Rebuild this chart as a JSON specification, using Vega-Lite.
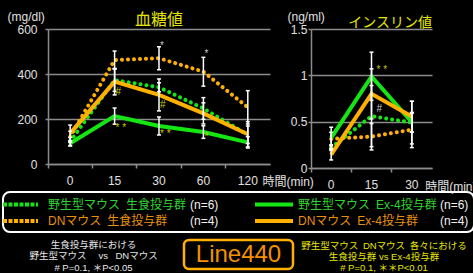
{
 "$schema": "https://vega.github.io/schema/vega-lite/v6.json",
 "background": "#000000",
 "padding": {"left": 0, "top": 10, "right": 0, "bottom": 0},
 "config": {"view": {"stroke": null}, "font": "Liberation Sans"},
 "datasets": {
  "glu": [
   {"t": "0", "s": "WT_sal", "v": 100, "lo": 82, "hi": 118},
   {"t": "15", "s": "WT_sal", "v": 373, "lo": 323, "hi": 423},
   {"t": "30", "s": "WT_sal", "v": 341, "lo": 321, "hi": 361},
   {"t": "60", "s": "WT_sal", "v": 247, "lo": 199, "hi": 295},
   {"t": "120", "s": "WT_sal", "v": 130, "lo": 91, "hi": 169},
   {"t": "0", "s": "WT_ex4", "v": 92, "lo": 80, "hi": 104},
   {"t": "15", "s": "WT_ex4", "v": 213, "lo": 177, "hi": 249},
   {"t": "30", "s": "WT_ex4", "v": 169, "lo": 129, "hi": 209},
   {"t": "60", "s": "WT_ex4", "v": 142, "lo": 114, "hi": 170},
   {"t": "120", "s": "WT_ex4", "v": 96, "lo": 71, "hi": 121},
   {"t": "0", "s": "DN_sal", "v": 121, "lo": 96, "hi": 146},
   {"t": "15", "s": "DN_sal", "v": 462, "lo": 422, "hi": 502},
   {"t": "30", "s": "DN_sal", "v": 470, "lo": 419, "hi": 521},
   {"t": "60", "s": "DN_sal", "v": 410, "lo": 346, "hi": 474},
   {"t": "120", "s": "DN_sal", "v": 252, "lo": 178, "hi": 326},
   {"t": "0", "s": "DN_ex4", "v": 136, "lo": 99, "hi": 173},
   {"t": "15", "s": "DN_ex4", "v": 366, "lo": 307, "hi": 425},
   {"t": "30", "s": "DN_ex4", "v": 307, "lo": 236, "hi": 378},
   {"t": "60", "s": "DN_ex4", "v": 225, "lo": 178, "hi": 272},
   {"t": "120", "s": "DN_ex4", "v": 132, "lo": 76, "hi": 188}
  ],
  "ins": [
   {"t": "0", "s": "WT_sal", "v": 0.22, "lo": 0.19, "hi": 0.25},
   {"t": "15", "s": "WT_sal", "v": 0.56, "lo": 0.23, "hi": 0.89},
   {"t": "30", "s": "WT_sal", "v": 0.49, "lo": 0.39, "hi": 0.59},
   {"t": "0", "s": "WT_ex4", "v": 0.325, "lo": 0.21, "hi": 0.44},
   {"t": "15", "s": "WT_ex4", "v": 0.988, "lo": 0.73, "hi": 1.25},
   {"t": "30", "s": "WT_ex4", "v": 0.494, "lo": 0.26, "hi": 0.72},
   {"t": "0", "s": "DN_sal", "v": 0.314, "lo": 0.24, "hi": 0.385},
   {"t": "15", "s": "DN_sal", "v": 0.339, "lo": 0.195, "hi": 0.48},
   {"t": "30", "s": "DN_sal", "v": 0.414, "lo": 0.22, "hi": 0.6},
   {"t": "0", "s": "DN_ex4", "v": 0.144, "lo": 0.087, "hi": 0.2},
   {"t": "15", "s": "DN_ex4", "v": 0.8, "lo": 0.53, "hi": 1.07},
   {"t": "30", "s": "DN_ex4", "v": 0.555, "lo": 0.385, "hi": 0.72}
  ],
  "gluAnn": [
   {"t": "30", "v": 533, "txt": "*", "k": "WTvsDN"},
   {"t": "60", "v": 498, "txt": "*", "k": "WTvsDN"},
   {"t": "15", "v": 329, "txt": "#", "k": "salVsEx4"},
   {"t": "30", "v": 272, "txt": "#", "k": "salVsEx4"},
   {"t": "15", "v": 170, "txt": "* *", "k": "salVsEx4"},
   {"t": "30", "v": 144, "txt": "* *", "k": "salVsEx4"},
   {"t": "60", "v": 129, "txt": "*", "k": "salVsEx4"}
  ],
  "insAnn": [
   {"t": "15", "v": 1.078, "txt": "*  *", "k": "salVsEx4"},
   {"t": "15", "v": 0.663, "txt": "#", "k": "WTvsDN"}
  ],
  "leg": [
   {"row": "1", "col": "L", "s": "WT_sal", "label": "野生型マウス\u2002生食投与群", "n": "(n=6)"},
   {"row": "1", "col": "R", "s": "WT_ex4", "label": "野生型マウス\u2002Ex-4投与群", "n": "(n=6)"},
   {"row": "2", "col": "L", "s": "DN_sal", "label": "DNマウス\u2002生食投与群", "n": "(n=4)"},
   {"row": "2", "col": "R", "s": "DN_ex4", "label": "DNマウス\u2002Ex-4投与群", "n": "(n=4)"}
  ]
 },
 "spacing": -3,
 "vconcat": [
  {
   "spacing": 41,
   "bounds": "flush",
   "hconcat": [
    {"width": 4, "height": 1, "data": {"values": [{}]}, "mark": {"type": "text", "text": ""}},
    {
     "width": 222, "height": 135,
     "data": {"name": "glu"},
     "title": {"text": "血糖値", "font": "Noto Sans CJK JP", "fontSize": 16, "fontWeight": "normal", "color": "#e6e600", "anchor": "middle", "frame": "group", "baseline": "bottom", "offset": 0, "dy": 34},
     "encoding": {
      "x": {"field": "t", "type": "ordinal", "bandPosition": 0.5, "title": "時間(min)",
       "scale": {"type": "band", "domain": ["0", "15", "30", "60", "120"], "paddingInner": 0, "paddingOuter": 0},
       "axis": {"bandPosition": 0, "labelOffset": 0, "labelAngle": 0, "labelColor": "#e0e0e0", "labelFont": "Liberation Sans", "labelFontSize": 12, "labelPadding": 7, "domainColor": "#8c8c8c", "domainWidth": 1.5, "tickColor": "#8c8c8c", "tickWidth": 1.5, "tickSize": 4, "grid": false, "titleFont": "Liberation Sans, Noto Sans CJK JP", "titleFontSize": 12, "titleFontWeight": "normal", "titleColor": "#e0e0e0", "titleX": 214, "titleY": 17, "titleAlign": "left", "titleBaseline": "middle", "titleAngle": 0, "titleAnchor": null}},
      "y": {"field": "v", "type": "quantitative", "title": "(mg/dl)",
       "scale": {"domain": [0, 600], "nice": false},
       "axis": {"values": [0, 200, 400, 600], "format": "d", "grid": true, "gridColor": "#8c8c8c", "gridWidth": 1.5, "domainColor": "#8c8c8c", "domainWidth": 1.5, "tickColor": "#8c8c8c", "tickWidth": 1.5, "tickSize": 3, "labelColor": "#e0e0e0", "labelFont": "Liberation Sans", "labelFontSize": 12, "labelPadding": 8, "titleAngle": 0, "titleX": -41, "titleY": -13, "titleAlign": "left", "titleBaseline": "middle", "titleFont": "Liberation Sans", "titleFontSize": 12, "titleFontWeight": "normal", "titleColor": "#e0e0e0", "titleAnchor": null}}
     },
     "layer": [
      {"transform": [{"filter": "datum.s === 'WT_sal' || datum.s === 'DN_sal'"}], "mark": {"type": "line", "strokeWidth": 4, "strokeDash": [0.1, 5.9], "strokeCap": "round"},
       "encoding": {"color": {"field": "s", "type": "nominal", "scale": {"domain": ["WT_sal", "WT_ex4", "DN_sal", "DN_ex4"], "range": ["#14e614", "#14e614", "#ffb000", "#ffb000"]}, "legend": null}}},
      {"transform": [{"filter": "datum.s === 'WT_ex4'"}], "mark": {"type": "line", "strokeWidth": 4},
       "encoding": {"color": {"field": "s", "type": "nominal", "legend": null}}},
      {"transform": [{"filter": "datum.s === 'DN_ex4'"}], "mark": {"type": "line", "strokeWidth": 4},
       "encoding": {"color": {"field": "s", "type": "nominal", "legend": null}}},
      {"mark": {"type": "rule", "color": "#ffffff", "strokeWidth": 1.5},
       "encoding": {"y": {"field": "lo", "type": "quantitative", "title": "(mg/dl)"}, "y2": {"field": "hi"}}},
      {"mark": {"type": "tick", "color": "#ffffff", "size": 4, "thickness": 1.5, "opacity": 1},
       "encoding": {"y": {"field": "lo", "type": "quantitative", "title": "(mg/dl)"}}},
      {"mark": {"type": "tick", "color": "#ffffff", "size": 4, "thickness": 1.5, "opacity": 1},
       "encoding": {"y": {"field": "hi", "type": "quantitative", "title": "(mg/dl)"}}},
      {"data": {"name": "gluAnn"}, "mark": {"type": "text", "align": "left", "baseline": "middle", "dx": 1, "dy": 2, "fontSize": 10, "font": "Liberation Sans"},
       "encoding": {"text": {"field": "txt"}, "fill": {"field": "k", "type": "nominal", "scale": {"domain": ["WTvsDN", "salVsEx4"], "range": ["#c8c8c8", "#c8c800"]}, "legend": null}}}
     ]
    },
    {
     "width": 121, "height": 139,
     "data": {"name": "ins"},
     "title": {"text": "インスリン値", "font": "Noto Sans CJK JP", "fontSize": 14, "fontWeight": "normal", "color": "#e6e600", "anchor": "end", "frame": "group", "baseline": "bottom", "offset": 0, "dy": 34},
     "encoding": {
      "x": {"field": "t", "type": "ordinal", "bandPosition": 0.5, "title": "時間(min)",
       "scale": {"type": "band", "domain": ["0", "15", "30"], "paddingInner": 0, "paddingOuter": 0},
       "axis": {"bandPosition": 0, "labelOffset": 0, "labelAngle": 0, "labelColor": "#e0e0e0", "labelFont": "Liberation Sans", "labelFontSize": 12, "labelPadding": 7, "domainColor": "#8c8c8c", "domainWidth": 1.5, "tickColor": "#8c8c8c", "tickWidth": 1.5, "tickSize": 4, "grid": false, "titleFont": "Liberation Sans, Noto Sans CJK JP", "titleFontSize": 12, "titleFontWeight": "normal", "titleColor": "#e0e0e0", "titleX": 113.7, "titleY": 18, "titleAlign": "left", "titleBaseline": "middle", "titleAngle": 0, "titleAnchor": null}},
      "y": {"field": "v", "type": "quantitative", "title": "(ng/ml)",
       "scale": {"domain": [0, 1.5], "nice": false},
       "axis": {"values": [0, 0.5, 1, 1.5], "format": "~g", "grid": true, "gridColor": "#8c8c8c", "gridWidth": 1.5, "domainColor": "#8c8c8c", "domainWidth": 1.5, "tickColor": "#8c8c8c", "tickWidth": 1.5, "tickSize": 3, "labelColor": "#e0e0e0", "labelFont": "Liberation Sans", "labelFontSize": 12, "labelPadding": 1, "titleAngle": 0, "titleX": -24, "titleY": -12.7, "titleAlign": "left", "titleBaseline": "middle", "titleFont": "Liberation Sans", "titleFontSize": 12, "titleFontWeight": "normal", "titleColor": "#e0e0e0", "titleAnchor": null}}
     },
     "layer": [
      {"transform": [{"filter": "datum.s === 'WT_sal' || datum.s === 'DN_sal'"}], "mark": {"type": "line", "strokeWidth": 4, "strokeDash": [0.1, 5.9], "strokeCap": "round"},
       "encoding": {"color": {"field": "s", "type": "nominal", "legend": null}}},
      {"transform": [{"filter": "datum.s === 'WT_ex4'"}], "mark": {"type": "line", "strokeWidth": 4},
       "encoding": {"color": {"field": "s", "type": "nominal", "legend": null}}},
      {"transform": [{"filter": "datum.s === 'DN_ex4'"}], "mark": {"type": "line", "strokeWidth": 4},
       "encoding": {"color": {"field": "s", "type": "nominal", "legend": null}}},
      {"mark": {"type": "rule", "color": "#ffffff", "strokeWidth": 1.5},
       "encoding": {"y": {"field": "lo", "type": "quantitative", "title": "(ng/ml)"}, "y2": {"field": "hi"}}},
      {"mark": {"type": "tick", "color": "#ffffff", "size": 4, "thickness": 1.5, "opacity": 1},
       "encoding": {"y": {"field": "lo", "type": "quantitative", "title": "(ng/ml)"}}},
      {"mark": {"type": "tick", "color": "#ffffff", "size": 4, "thickness": 1.5, "opacity": 1},
       "encoding": {"y": {"field": "hi", "type": "quantitative", "title": "(ng/ml)"}}},
      {"data": {"name": "insAnn"}, "mark": {"type": "text", "align": "left", "baseline": "middle", "dx": 5, "dy": 2, "fontSize": 10, "font": "Liberation Sans"},
       "encoding": {"text": {"field": "txt"}, "fill": {"field": "k", "type": "nominal", "legend": null}}}
     ]
    }
   ]
  },
  {
   "spacing": 5,
   "vconcat": [
    {
     "width": 471, "height": 40,
     "view": {"stroke": "#ffffff", "strokeWidth": 2, "cornerRadius": 7},
     "data": {"name": "leg"},
     "encoding": {
      "x": {"field": "col", "type": "nominal", "scale": {"type": "point", "domain": ["L", "R"], "range": [45, 295], "padding": 0}, "axis": null},
      "y": {"field": "row", "type": "nominal", "scale": {"type": "point", "domain": ["1", "2"], "range": [12.5, 29], "padding": 0}, "axis": null}
     },
     "layer": [
      {"transform": [{"filter": "datum.col === 'L'"}], "mark": {"type": "rule", "xOffset": -45, "x2Offset": -10, "strokeWidth": 4, "strokeDash": [4, 1.5]},
       "encoding": {"x2": {"field": "col"}, "color": {"field": "s", "type": "nominal", "legend": null}}},
      {"transform": [{"filter": "datum.col === 'R'"}], "mark": {"type": "rule", "xOffset": -43, "x2Offset": -5, "strokeWidth": 4},
       "encoding": {"x2": {"field": "col"}, "color": {"field": "s", "type": "nominal", "legend": null}}},
      {"transform": [{"filter": "datum.row === '1'"}], "mark": {"type": "text", "align": "left", "baseline": "middle", "fontSize": 12, "font": "Liberation Sans, Noto Sans CJK JP", "fill": "#2fd32f"},
       "encoding": {"text": {"field": "label"}}},
      {"transform": [{"filter": "datum.row === '2'"}], "mark": {"type": "text", "align": "left", "baseline": "middle", "fontSize": 12, "font": "Liberation Sans, Noto Sans CJK JP", "fill": "#e8900a"},
       "encoding": {"text": {"field": "label"}}},
      {"mark": {"type": "text", "align": "left", "baseline": "middle", "dx": 142, "fontSize": 12, "font": "Liberation Sans", "fill": "#f0f0f0"},
       "encoding": {"text": {"field": "n"}}}
     ]
    },
    {
     "spacing": 0,
     "bounds": "flush",
     "hconcat": [
      {"width": 181, "height": 29,
       "data": {"values": [{"txt": "生食投与群における\n野生型マウス\u2003 vs\u2002 DNマウス\n# P=0.1, ＊P<0.05"}]},
       "mark": {"type": "text", "lineBreak": "\n", "lineHeight": 11.5, "fontSize": 9.5, "font": "Liberation Sans, Noto Sans CJK JP", "fill": "#e6e6e6", "baseline": "middle", "dy": -10},
       "encoding": {"text": {"field": "txt"}}},
      {"width": 109, "height": 29,
       "view": {"stroke": "#ffb000", "strokeWidth": 2.5, "cornerRadius": 5},
       "data": {"values": [{"txt": "Line440"}]},
       "mark": {"type": "text", "fontSize": 24, "font": "Liberation Sans", "fill": "#f39200", "baseline": "middle"},
       "encoding": {"text": {"field": "txt"}}},
      {"width": 182, "height": 29,
       "data": {"values": [{"txt": "野生型マウス\u2002DNマウス\u2002各々における\n生食投与群 vs Ex-4投与群\n# P=0.1, ＊＊P<0.01"}]},
       "mark": {"type": "text", "lineBreak": "\n", "lineHeight": 11, "fontSize": 9.5, "font": "Liberation Sans, Noto Sans CJK JP", "fill": "#e6e600", "baseline": "middle", "dy": -8.5},
       "encoding": {"text": {"field": "txt"}}}
     ]
    }
   ]
  }
 ]
}
